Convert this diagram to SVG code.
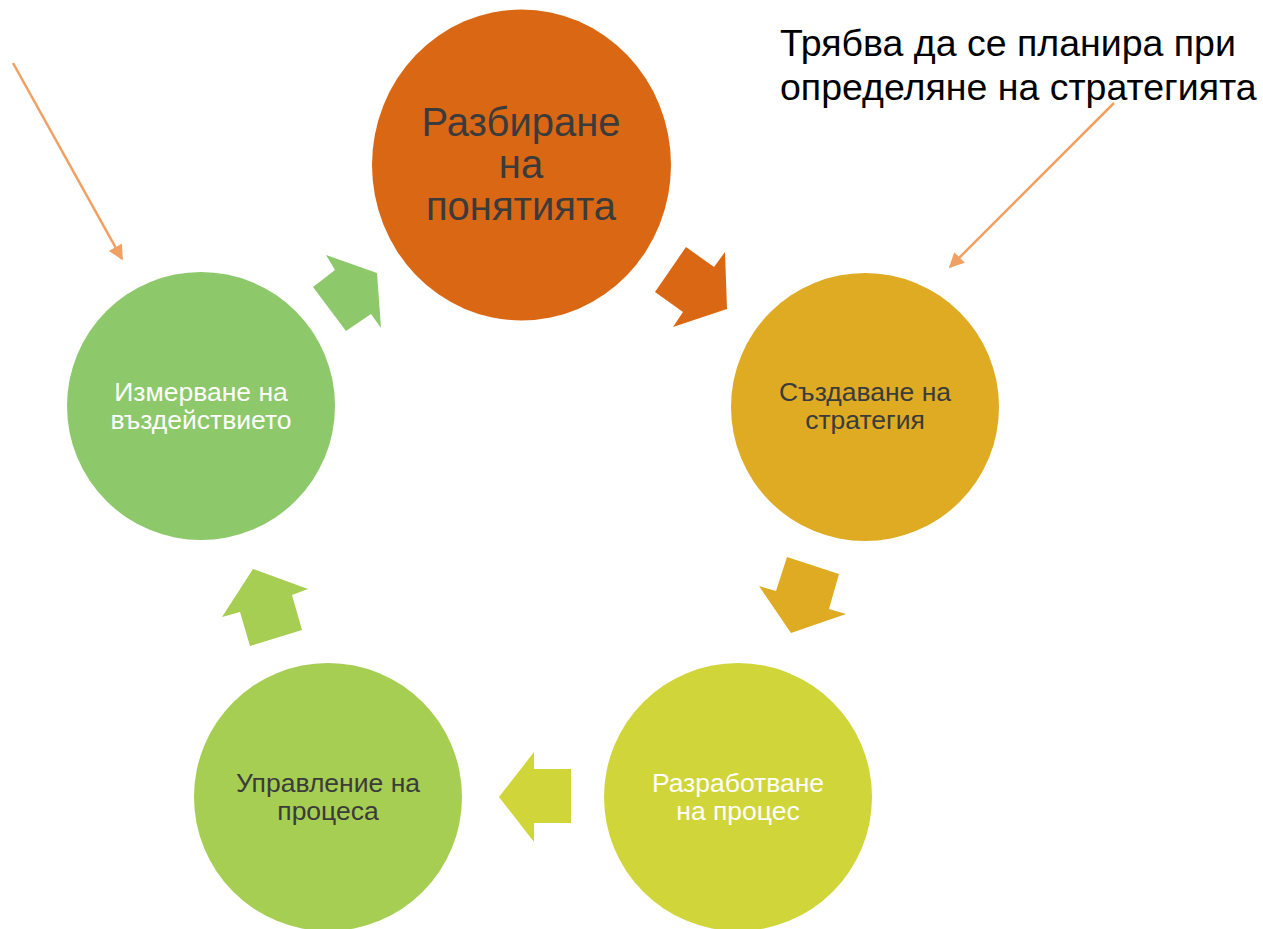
<svg xmlns="http://www.w3.org/2000/svg" width="1263" height="929" viewBox="0 0 1263 929">
<style>
text{font-family:"Liberation Sans",Arial,sans-serif;text-anchor:middle}
.big{font-size:40px;fill:#3B3B3B}
.sm{font-size:26.5px}
.dk{fill:#3B3B3B}
.wt{fill:#FFFFFF}
.note{font-size:37.5px;fill:#000;text-anchor:start}
.ln{stroke:#F0A062;stroke-width:2.5;fill:none}
</style>
<defs>
<marker id="ah" viewBox="0 0 10 10" refX="9" refY="5" markerWidth="6" markerHeight="6" orient="auto" markerUnits="strokeWidth">
<path d="M0,0 L10,5 L0,10 z" fill="#F0A062"/>
</marker>
</defs>
<rect width="1263" height="929" fill="#FFFFFF"/>
<g id="n1">
<ellipse cx="521.5" cy="165" rx="149.5" ry="155.5" fill="#DA6714"/>
<text class="big" x="521" y="136">Разбиране</text>
<text class="big" x="521" y="178">на</text>
<text class="big" x="521" y="220">понятията</text>
</g>
<g id="n2">
<circle cx="865" cy="407" r="134" fill="#DEAB23"/>
<text class="sm dk" x="865" y="401">Създаване на</text>
<text class="sm dk" x="865" y="429">стратегия</text>
</g>
<g id="n3">
<circle cx="738" cy="797" r="134" fill="#D0D63A"/>
<text class="sm wt" x="738" y="792">Разработване</text>
<text class="sm wt" x="738" y="820">на процес</text>
</g>
<g id="n4">
<circle cx="328" cy="797" r="134" fill="#A6CE52"/>
<text class="sm dk" x="328" y="792">Управление на</text>
<text class="sm dk" x="328" y="820">процеса</text>
</g>
<g id="n5">
<circle cx="201" cy="406" r="134" fill="#8DC86B"/>
<text class="sm wt" x="201" y="401">Измерване на</text>
<text class="sm wt" x="201" y="429">въздействието</text>
</g>
<g id="note">
<text class="note" x="780" y="56">Трябва да се планира при</text>
<text class="note" x="780" y="100">определяне на стратегията</text>
</g>
<g id="connectors">
<polygon points="655,292 686,247 714,267 725,252 727,309 673,327 683,312" fill="#DA6714"/>
<polygon points="787,557 839,574 829,609 846,614 791,633 759,586 776,591" fill="#DEAB23"/>
<polygon points="499,797 534,752 534,769 571,769 571,823 534,823 534,842" fill="#D0D63A"/>
<polygon points="222,617 253,569 308,589 292,595 302,630 250,646 240,612" fill="#A6CE52"/>
<polygon points="326,255 377,273 381,328 371,314 346,331 313,287 335,270" fill="#8DC86B"/>
<line class="ln" x1="13" y1="63" x2="122" y2="259" marker-end="url(#ah)"/>
<line class="ln" x1="1114" y1="103" x2="950" y2="267" marker-end="url(#ah)"/>
</g>
</svg>
